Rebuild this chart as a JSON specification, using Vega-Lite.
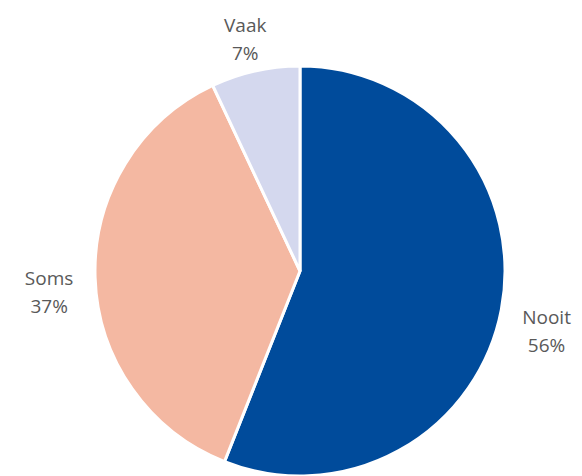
{
  "$schema": "https://vega.github.io/schema/vega-lite/v6.json",
  "autosize": {"type": "none"},
  "padding": {"left": 18, "top": 66, "right": 0, "bottom": 0},
  "width": 564,
  "height": 410,
  "background": "white",
  "data": {"values": [
    {"cat": "Nooit", "value": 56, "label": "Nooit\n56%", "order": 1},
    {"cat": "Soms", "value": 37, "label": "Soms\n37%", "order": 2},
    {"cat": "Vaak", "value": 7, "label": "Vaak\n7%", "order": 3}
  ]},
  "encoding": {
    "theta": {"field": "value", "type": "quantitative", "stack": true},
    "order": {"field": "order", "type": "quantitative"},
    "color": {"field": "cat", "type": "nominal", "legend": null,
      "scale": {"domain": ["Nooit", "Soms", "Vaak"], "range": ["#004B9B", "#F4B8A2", "#D4D8EE"]}}
  },
  "layer": [
    {"mark": {"type": "arc", "outerRadius": 205, "stroke": "white", "strokeWidth": 3}},
    {"mark": {"type": "text", "radius": 251, "font": "Open Sans", "fontSize": 19, "lineHeight": 28, "lineBreak": "\n", "align": "center", "baseline": "middle"},
     "encoding": {"text": {"field": "label"}, "color": {"value": "#595959"}}}
  ]
}
